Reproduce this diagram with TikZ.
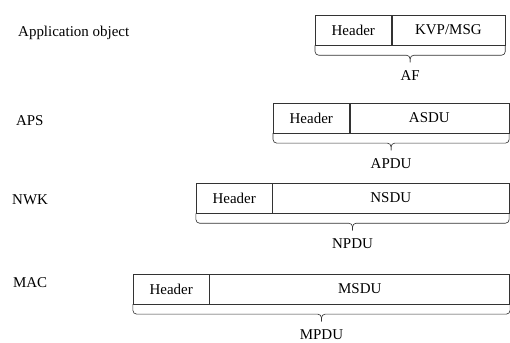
\documentclass[tikz,border=0pt]{standalone}
\usepackage{fontspec}
\setmainfont{Liberation Serif}
\usetikzlibrary{calc,positioning}

\tikzset{
  field/.style={draw=black!80, line width=0.6pt, minimum height=1cm, inner sep=0pt, anchor=west, font=\fontsize{14.2}{17}\selectfont},
  hdr/.style={field, minimum width=2.53cm},
  bracket/.style={draw=black!80, line width=0.6pt, rounded corners=3.5pt},
  lbl/.style={font=\fontsize{14.2}{17}\selectfont},
  layer/.style={lbl, anchor=west, inner sep=0pt}
}

\begin{document}
\begin{tikzpicture}
\useasboundingbox (0,0) rectangle (17,-11.4);

% layer names
\node[layer] (app) at (0.6, -1.1) {Application object};
\node[layer] (aps) at (0.53, -4.03) {APS};
\node[layer] (nwk) at (0.4, -6.67) {NWK};
\node[layer] (mac) at (0.43, -9.43) {MAC};

% application frame
\node[hdr] (h1) at (10.5, -1.0) {Header};
\node[field, right=0pt of h1, minimum width=3.77cm] (p1) {KVP/MSG};
\coordinate (t1) at ($(h1.south west)!0.5!(p1.south east)+(0,-0.57)$);
\draw[bracket] (h1.south west) -- ++(0,-0.33) -| (t1);
\draw[bracket] (p1.south east) -- ++(0,-0.33) -| (t1);
\node[lbl] (af) at ($(t1)+(0,-0.43)$) {AF};

% APS
\node[hdr] (h2) at (9.1, -3.93) {Header};
\node[field, right=0pt of h2, minimum width=5.3cm] (p2) {ASDU};
\coordinate (t2) at ($(h2.south west)!0.5!(p2.south east)+(0,-0.57)$);
\draw[bracket] (h2.south west) -- ++(0,-0.33) -| (t2);
\draw[bracket] (p2.south east) -- ++(0,-0.33) -| (t2);
\node[lbl] (apdu) at ($(t2)+(0,-0.43)$) {APDU};

% NWK
\node[hdr] (h3) at (6.53, -6.6) {Header};
\node[field, right=0pt of h3, minimum width=7.87cm] (p3) {NSDU};
\coordinate (t3) at ($(h3.south west)!0.5!(p3.south east)+(0,-0.57)$);
\draw[bracket] (h3.south west) -- ++(0,-0.33) -| (t3);
\draw[bracket] (p3.south east) -- ++(0,-0.33) -| (t3);
\node[lbl] (npdu) at ($(t3)+(0,-0.43)$) {NPDU};

% MAC
\node[hdr] (h4) at (4.43, -9.63) {Header};
\node[field, right=0pt of h4, minimum width=10cm] (p4) {MSDU};
\coordinate (t4) at ($(h4.south west)!0.5!(p4.south east)+(0,-0.57)$);
\draw[bracket] (h4.south west) -- ++(0,-0.33) -| (t4);
\draw[bracket] (p4.south east) -- ++(0,-0.33) -| (t4);
\node[lbl] (mpdu) at ($(t4)+(0,-0.43)$) {MPDU};

\end{tikzpicture}
\end{document}
